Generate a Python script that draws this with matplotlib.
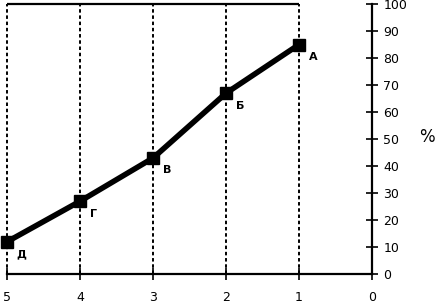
import matplotlib.pyplot as plt

# Данные
x_vals = [5, 4, 3, 2, 1]
y_vals = [12, 27, 43, 67, 85]
point_labels = ["Д", "Г", "В", "Б", "А"]
x_ticks = [5, 4, 3, 2, 1, 0]
y_ticks = list(range(0, 101, 10))

fig = plt.figure(figsize=(4.44, 3.07), dpi=100)
ax = fig.add_axes([0.016, 0.107, 0.822, 0.88])

# Пунктирные вертикали и верхняя линия
ax.vlines(x_vals, 0, 100, colors="black", linestyles=(0, (1.8, 1.4)), lw=1.4,
          clip_on=False)
ax.hlines(100, 5, 1, colors="black", lw=1.6, clip_on=False)

ax.plot(x_vals, y_vals, color="black", lw=4, marker="s", markersize=9,
        zorder=3, clip_on=False)
for x, y, lab in zip(x_vals, y_vals, point_labels):
    ax.annotate(lab, (x, y), xytext=(7, -9), textcoords="offset points",
                fontsize=8, fontweight="bold", ha="left", va="center")

ax.set_xlim(5, 0)
ax.set_ylim(0, 100)
ax.set_xticks(x_ticks)
ax.set_yticks(y_ticks)
ax.yaxis.tick_right()
ax.tick_params(axis="both", direction="inout", length=8, width=1.2, labelsize=9)
ax.tick_params(axis="x", pad=8)
ax.tick_params(axis="y", pad=4)
for s in ["left", "top"]:
    ax.spines[s].set_visible(False)
for s in ["right", "bottom"]:
    ax.spines[s].set_linewidth(1.6)

fig.text(0.962, 0.554, "%", fontsize=12, ha="center", va="center")

fig.savefig("out.png", dpi=100)
